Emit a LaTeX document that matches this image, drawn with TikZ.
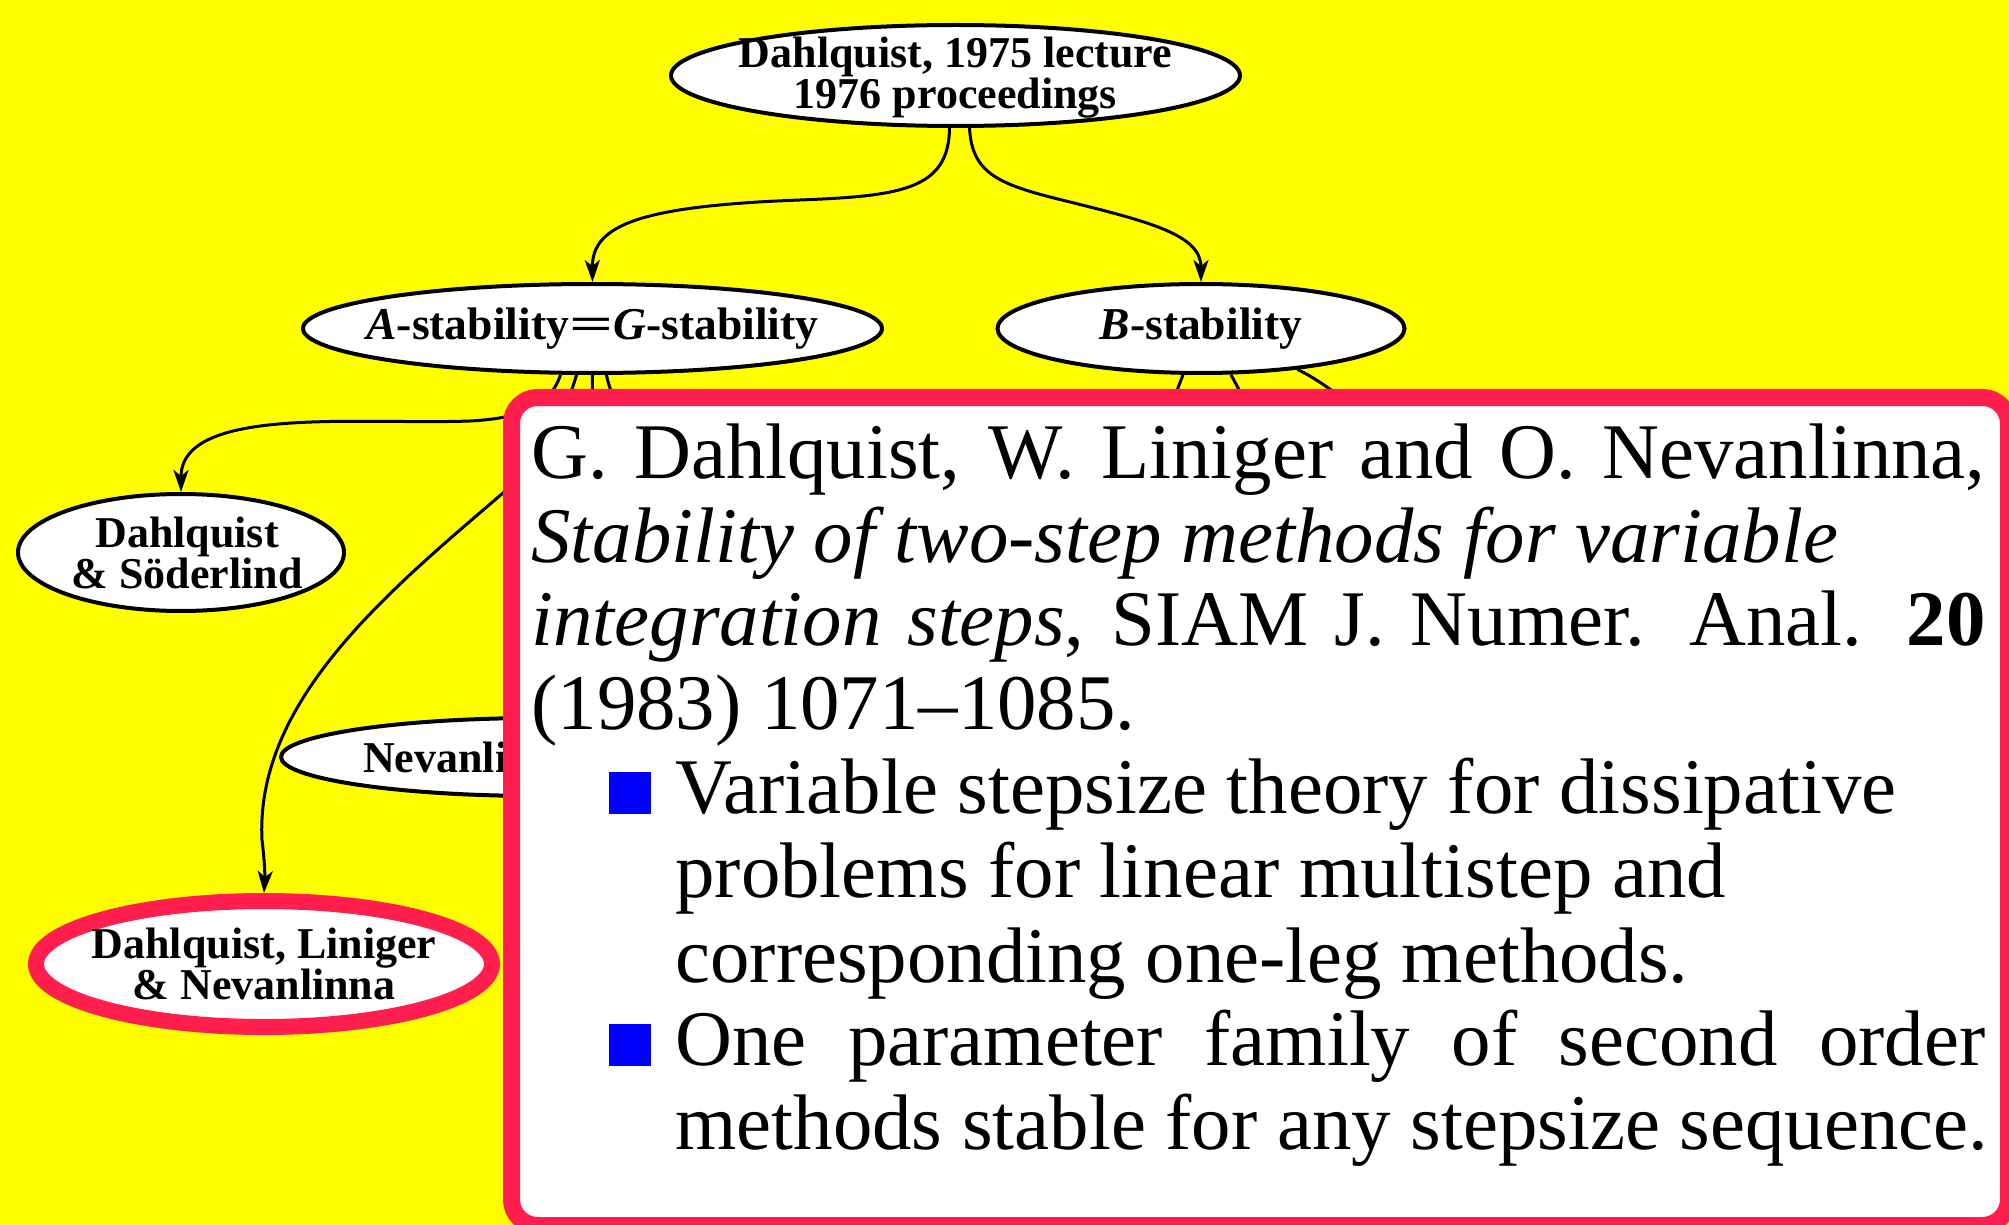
\documentclass[tikz,border=0pt]{standalone}
\usepackage{fontspec}
\usepackage{graphicx}
\setmainfont{Liberation Serif}
\usetikzlibrary{arrows.meta,shapes.geometric}
\definecolor{bgyellow}{HTML}{FFFF00}
\definecolor{hired}{HTML}{FF1F4F}
\definecolor{bulletblue}{HTML}{0000FF}
\newcommand\bulletsq{\textcolor{bulletblue}{\rule{21pt}{21pt}}}
\newcommand\wideeq{\scalebox{1.7}[1]{=}}

\begin{document}
\begin{tikzpicture}[x=0.5pt,y=-0.5pt,
  gnode/.style={ellipse, draw=black, line width=2pt, fill=white, inner sep=0pt},
  glabel/.style={font=\fontsize{22pt}{20.5pt}\selectfont\bfseries, align=center, inner sep=0pt},
  wlabel/.style={glabel, font=\fontsize{22.8pt}{21pt}\selectfont\bfseries},
  edge/.style={line width=1.5pt, -{Stealth[length=11pt,width=7.5pt,inset=3pt]}},
  refbox/.style={rectangle, draw=hired, fill=white, line width=8.5pt,
    rounded corners=13pt, inner sep=0pt, outer sep=0pt, anchor=north west},
]
\useasboundingbox (0,0) rectangle (2009,1225);
\clip (0,0) rectangle (2009,1225);
\fill[bgyellow] (0,0) rectangle (2009,1225);

% graph nodes
\node[gnode, minimum width=284.5pt, minimum height=50.5pt,
  label={[glabel, yshift=-1pt]center:{Dahlquist, 1975 lecture\\1976 proceedings}}] (top) at (955.5,75.5) {};
\node[gnode, minimum width=289.5pt, minimum height=44.5pt,
  label={[wlabel]center:{\textit{A}-stability\wideeq\textit{G}-stability}}] (astab) at (592.5,328.5) {};
\node[gnode, minimum width=203.5pt, minimum height=44.5pt,
  label={[wlabel]center:{\textit{B}-stability}}] (bstab) at (1201,328.5) {};
\node[gnode, minimum width=163pt, minimum height=58.5pt,
  label={[glabel, xshift=3pt]center:{Dahlquist\\\& Söderlind}}] (ds) at (181,552.5) {};
\node[gnode, minimum width=259pt, minimum height=39pt,
  label={[glabel]center:{\makebox[177pt][l]{Nevanlinna}}}] (nev) at (540,757) {};
\node[gnode, draw=hired, line width=8pt, minimum width=228pt, minimum height=63pt,
  label={[glabel]center:{Dahlquist, Liniger\\\& Nevanlinna}}] (dln) at (264,964) {};

% ends of connectors running under the reference box
\coordinate (hidA) at (760,620);
\coordinate (hidB1) at (1120,600);
\coordinate (hidB2) at (1320,600);
\coordinate (hidB3) at (1500,560);

% connectors
\draw[edge] ([xshift=-3pt]top.south) .. controls (949,190) and (900,196) .. (800,200)
  .. controls (640,206) and (592,225) .. (astab.north);
\draw[edge] ([xshift=7pt]top.south) .. controls (972,175) and (1000,185) .. (1070,202)
  .. controls (1150,222) and (1201,235) .. (bstab.north);
\draw[edge] ([xshift=-16pt]astab.south) .. controls (550,405) and (525,418) .. (470,421)
  .. controls (360,425) and (181,405) .. (ds.north);
\draw[edge] ([xshift=-8pt]astab.south) .. controls (560,430) and (540,460) .. (503,493)
  .. controls (390,590) and (255,700) .. (262,840)
  .. controls (264.5,860) and (265,875) .. (dln.north);
\draw[edge] (astab.south) .. controls (592,500) and (545,600) .. (nev.north);
\draw[edge] ([xshift=7pt]astab.south) .. controls (615,420) and (680,520) .. (hidA);
\draw[edge] ([xshift=-9pt]bstab.south) .. controls (1165,420) and (1130,520) .. (hidB1);
\draw[edge] ([xshift=15pt]bstab.south) .. controls (1255,417) and (1300,520) .. (hidB2);
\draw[edge] (bstab.-23) .. controls (1345,392) and (1430,470) .. (hidB3);

% reference box
\node[refbox, minimum width=748.5pt, minimum height=414pt] (ref) at (511.5,397.5) {};
\node[anchor=base west, inner sep=0pt, font=\fontsize{39.4pt}{42pt}\selectfont] (reftext) at (531,478) {%
  \lineskiplimit=-\maxdimen
  \vtop{%
    \hbox to 727pt{G. Dahlquist, W. Liniger and O. Nevanlinna,}%
    \hbox{\itshape Stability of two-step methods for variable}%
    \hbox to 727pt{\textit{integration steps}, SIAM J. Numer. Anal. \textbf{20}}%
    \hbox{(1983) 1071--1085.}%
    \hbox{\hskip39pt\bulletsq\hskip12pt Variable stepsize theory for dissipative}%
    \hbox{\hskip72pt problems for linear multistep and}%
    \hbox{\hskip72pt corresponding one-leg methods.}%
    \hbox to 727pt{\hskip39pt\bulletsq\hskip12pt One parameter family of second order}%
    \hbox{\hskip72pt methods stable for any stepsize sequence.}%
  }};
\end{tikzpicture}
\end{document}
